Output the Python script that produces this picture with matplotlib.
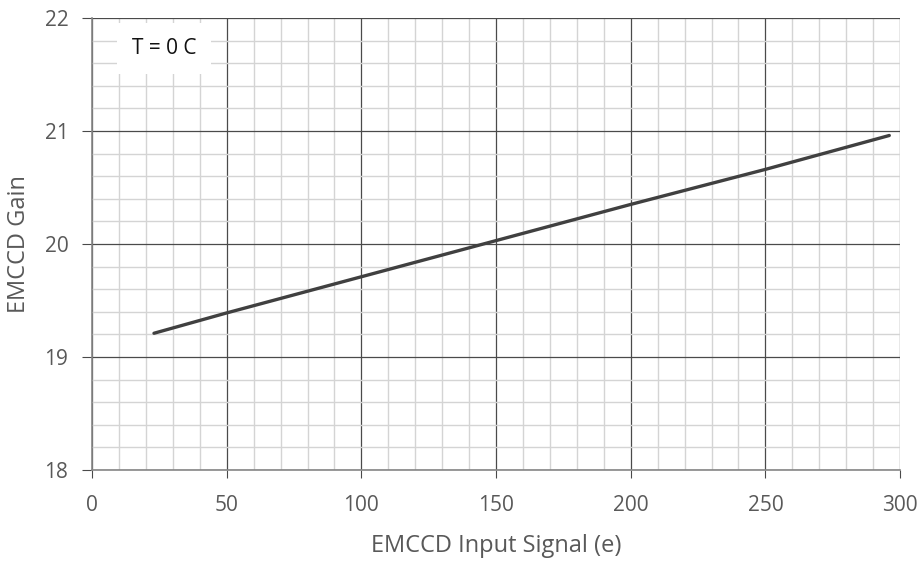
import numpy as np
import matplotlib.pyplot as plt
from matplotlib.ticker import MultipleLocator

plt.rcParams['font.family'] = ['Open Sans', 'DejaVu Sans']

# data
signal = [23, 50, 100, 150, 200, 250, 296]
gain = [19.21, 19.39, 19.71, 20.03, 20.35, 20.66, 20.96]

fig = plt.figure(figsize=(9.24, 5.61), dpi=100)
ax = fig.add_axes([0.0996, 0.1622, 0.8745, 0.8058])

ax.plot(signal, gain, color='#404040', lw=2.4, solid_capstyle='round', zorder=3)

ax.set_xlim(0, 300)
ax.set_ylim(18, 22)
ax.xaxis.set_major_locator(MultipleLocator(50))
ax.xaxis.set_minor_locator(MultipleLocator(10))
ax.yaxis.set_major_locator(MultipleLocator(1))
ax.yaxis.set_minor_locator(MultipleLocator(0.2))

ax.grid(which='minor', color='#d4d4d4', lw=1.0)
ax.grid(which='major', color='#4a4a4a', lw=0.9)
ax.set_axisbelow(True)

for s in ['top', 'right']:
    ax.spines[s].set_visible(False)
for s in ['left', 'bottom']:
    ax.spines[s].set_color('#868686')
    ax.spines[s].set_linewidth(1.2)

ax.tick_params(axis='x', which='major', direction='out', length=6, color='#4a4a4a',
               labelsize=15, labelcolor='#595959', pad=12)
ax.tick_params(axis='y', which='major', direction='out', length=7, color='#4a4a4a',
               labelsize=15, labelcolor='#595959', pad=10)
ax.tick_params(which='minor', length=0)

ax.set_xlabel('EMCCD Input Signal (e)', fontsize=17, color='#595959')
ax.set_ylabel('EMCCD Gain', fontsize=17, color='#595959')
ax.xaxis.set_label_coords(0.5, -0.142)
ax.yaxis.set_label_coords(-0.076, 0.5)

ax.text(26.7, 21.73, 'T = 0 C', fontsize=15, color='#111111', ha='center', va='center',
        bbox=dict(boxstyle='square,pad=0.7', fc='white', ec='none'), zorder=4)

fig.savefig('out.png', dpi=100)
